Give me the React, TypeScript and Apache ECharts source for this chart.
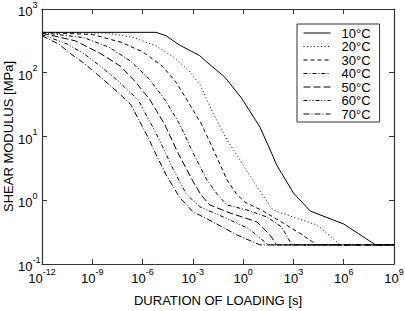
import React, { useEffect, useRef } from "react";
import * as echarts from "echarts";

const seriesNames = ["10°C", "20°C", "30°C", "40°C", "50°C", "60°C", "70°C"];
const xTickExponents = [-12, -9, -6, -3, 0, 3, 6, 9];
const yTickExponents = [-1, 0, 1, 2, 3];
const xAxisTitle = "DURATION OF LOADING [s]";
const yAxisTitle = "SHEAR MODULUS [MPa]";

// points: [log10(duration in s), log10(shear modulus in MPa)]
const curve10 = [
  [-12, 2.634], [-5.2, 2.634], [-4.6, 2.58], [-3.8, 2.435], [-2.6, 2.27], [-2.1, 2.153],
  [-1.1, 1.933], [-0.1, 1.604], [1.0, 1.149], [1.8, 0.678], [2.0, 0.553], [3.0, 0.114],
  [4.0, -0.169], [6.0, -0.373], [7.9, -0.7], [9, -0.7],
];
const curve20 = [
  [-12, 2.634], [-8, 2.62], [-6.5, 2.55], [-5.2, 2.42], [-4.18, 2.25], [-3.3, 2.05],
  [-2.57, 1.81], [-1.8, 1.37], [-0.96, 0.945], [-0.19, 0.631], [0.83, 0.208], [1.78, -0.153],
  [2.98, -0.263], [4.41, -0.388], [5.8, -0.7], [9, -0.7],
];
const curve30 = [
  [-12, 2.634], [-9, 2.6], [-7.3, 2.48], [-6, 2.33], [-4.8, 2.1], [-4.0, 1.85], [-3.35, 1.573],
  [-2.5, 1.2], [-1.7, 0.75], [-0.96, 0.318], [-0.4, 0.1], [0.11, -0.03], [1.2, -0.17],
  [2.4, -0.36], [3.4, -0.52], [4.4, -0.7], [9, -0.7],
];
const curve40 = [
  [-12, 2.63], [-9.5, 2.55], [-8, 2.4], [-6.7, 2.18], [-5.6, 1.9], [-4.66, 1.573], [-3.8, 1.2],
  [-3.0, 0.75], [-2.16, 0.318], [-1.5, 0.08], [-0.96, -0.075], [0.23, -0.153], [1.42, -0.263],
  [2.3, -0.42], [2.9, -0.7], [9, -0.7],
];
const curve50 = [
  [-12, 2.62], [-10, 2.5], [-8.5, 2.3], [-7.3, 2.1], [-6.4, 1.85], [-5.56, 1.573], [-4.7, 1.2],
  [-3.9, 0.75], [-3.0, 0.3], [-2.5, 0.08], [-1.98, -0.075], [-0.78, -0.2], [0.83, -0.34],
  [1.6, -0.545], [2.0, -0.7], [9, -0.7],
];
const curve60 = [
  [-12, 2.6], [-10.5, 2.45], [-9.5, 2.3], [-8.5, 2.1], [-7.5, 1.88], [-6.25, 1.57], [-5.6, 1.25],
  [-5.0, 0.95], [-4.2, 0.5], [-3.4, 0.1], [-2.6, -0.1], [-1.2, -0.26], [0.3, -0.44],
  [1.5, -0.7], [9, -0.7],
];
const curve70 = [
  [-12, 2.58], [-11, 2.45], [-10.3, 2.3], [-9.5, 2.15], [-8.5, 1.93], [-7.5, 1.7], [-6.7, 1.5],
  [-6.2, 1.25], [-5.7, 1.0], [-5.2, 0.72], [-4.6, 0.4], [-3.8, 0.05], [-3.0, -0.18],
  [-1.8, -0.34], [-0.4, -0.54], [1.0, -0.7], [9, -0.7],
];
const curves = [curve10, curve20, curve30, curve40, curve50, curve60, curve70];

const lineTypes: any[] = [
  "solid",
  [1, 2.5],
  [4, 3],
  [4, 2, 1, 2],
  [7, 3],
  [4, 2, 1, 2, 1, 2],
  [6, 2, 1, 2],
];

const FONT = "Liberation Sans, Arial, Helvetica, sans-serif";

function expLabel(v: number) {
  const e = Math.round(Math.log10(v));
  return `{b|10}{s|${e}}`;
}

const rich = {
  b: { fontSize: 13, fontFamily: FONT, color: "#000", lineHeight: 18, verticalAlign: "bottom" },
  s: { fontSize: 9, fontFamily: FONT, color: "#000", lineHeight: 10, verticalAlign: "top" },
};

export default function App() {
  const ref = useRef<HTMLDivElement>(null);
  useEffect(() => {
    if (!ref.current) return;
    const chart = echarts.init(ref.current, null, { renderer: "svg" });
    const xMin = 10 ** xTickExponents[0];
    const xMax = 10 ** xTickExponents[xTickExponents.length - 1];
    const xInt = xTickExponents[1] - xTickExponents[0];
    const yMin = 10 ** yTickExponents[0];
    const yMax = 10 ** yTickExponents[yTickExponents.length - 1];
    const yInt = yTickExponents[1] - yTickExponents[0];
    const axisLine = { show: true, lineStyle: { color: "#333", width: 1.2 } };
    const axisTick = { show: true, inside: true, length: 5, lineStyle: { color: "#333", width: 1 } };
    const baseX = {
      type: "log" as const,
      logBase: 10,
      min: xMin,
      max: xMax,
      interval: xInt,
      splitLine: { show: false },
      axisLine,
      axisTick,
    };
    const baseY = {
      type: "log" as const,
      logBase: 10,
      min: yMin,
      max: yMax,
      interval: yInt,
      splitLine: { show: false },
      axisLine,
      axisTick,
    };
    chart.setOption({
      animation: false,
      backgroundColor: "#fff",
      textStyle: { fontFamily: FONT },
      grid: { left: 42, right: 11, top: 9, bottom: 47, containLabel: false, outerBoundsMode: "none" },
      legend: {
        data: seriesNames,
        orient: "vertical",
        left: 297,
        top: 24,
        itemWidth: 27,
        itemHeight: 13,
        itemGap: 0.5,
        padding: [2.5, 9, 1.5, 6],
        borderColor: "#333",
        borderWidth: 1,
        backgroundColor: "#fff",
        itemStyle: { opacity: 0 },
        lineStyle: { width: 1 },
        textStyle: { fontSize: 13, fontFamily: FONT, color: "#000", padding: [0, 0, 0, 6] },
      },
      xAxis: [
        {
          ...baseX,
          position: "bottom",
          name: xAxisTitle,
          nameLocation: "middle",
          nameGap: 30,
          nameMoveOverlap: false,
          nameTextStyle: { fontSize: 13, fontFamily: FONT, color: "#000" },
          axisLabel: { show: true, margin: 3, formatter: expLabel, rich },
        },
        { ...baseX, position: "top", axisLabel: { show: false } },
      ],
      yAxis: [
        {
          ...baseY,
          position: "left",
          name: yAxisTitle,
          nameLocation: "middle",
          nameGap: 27,
          nameMoveOverlap: false,
          nameTextStyle: { fontSize: 13, fontFamily: FONT, color: "#000" },
          axisLabel: { show: true, margin: 24, align: "left", formatter: expLabel, rich },
        },
        { ...baseY, position: "right", axisLabel: { show: false } },
      ],
      series: curves.map((c, i) => ({
        name: seriesNames[i],
        type: "line",
        xAxisIndex: 0,
        yAxisIndex: 0,
        symbol: "none",
        showSymbol: false,
        silent: true,
        data: c.map(([lt, lg]) => [10 ** lt, 10 ** lg]),
        lineStyle: { color: "#000", width: 1, type: lineTypes[i] },
        itemStyle: { color: "#000" },
      })),
    });
    return () => chart.dispose();
  }, []);
  return (
    <div
      ref={ref}
      style={{ position: "fixed", left: 0, top: 0, width: 405, height: 311, background: "#fff" }}
    />
  );
}
